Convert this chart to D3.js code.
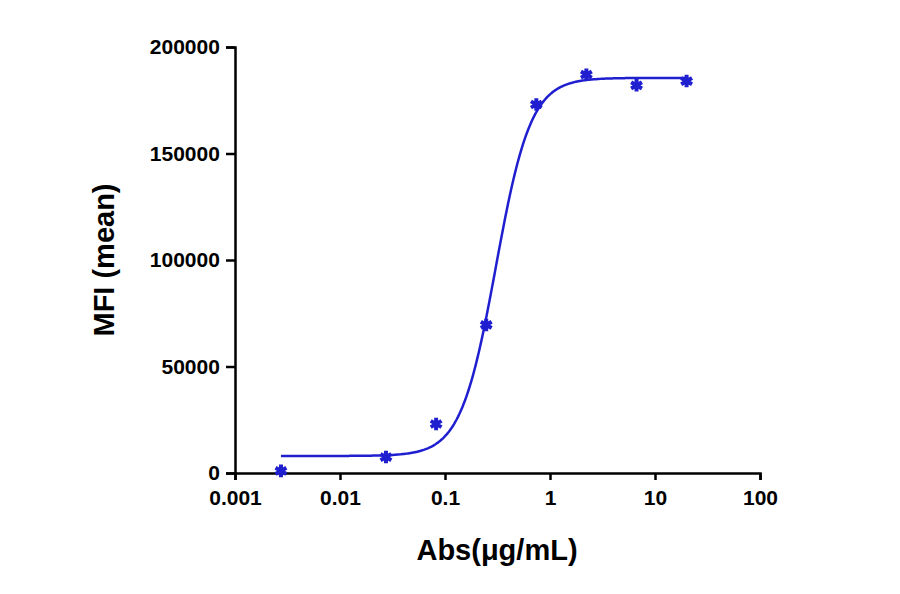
<!DOCTYPE html>
<html><head><meta charset="utf-8">
<script src="https://cdn.jsdelivr.net/npm/d3@7"></script>
<style>body{margin:0;background:#fff}</style></head>
<body><svg id="c" width="900" height="594"></svg>
<script>
const conc = [0.00274, 0.0274, 0.0823, 0.247, 0.741, 2.22, 6.67, 20];
const mfi = [1000, 7500, 23000, 69500, 173000, 187000, 182000, 184000];
const fitParams = {bottom: 8000, top: 185500, ec50: 0.305, hill: 2.6};
const xTicks = [0.001, 0.01, 0.1, 1, 10, 100];
const xTickLabels = ["0.001", "0.01", "0.1", "1", "10", "100"];
const yTicks = [0, 50000, 100000, 150000, 200000];

const svg = d3.select("#c");
const x = d3.scaleLog().domain([0.001, 100]).range([235, 760]);
const y = d3.scaleLinear().domain([0, 200000]).range([473, 47]);
const font = "Arial, 'Liberation Sans', sans-serif";

const xa = svg.append("g").attr("transform", "translate(0,473)")
  .call(d3.axisBottom(x).tickValues(xTicks).tickFormat((d, i) => xTickLabels[i]).tickSizeOuter(0).tickSize(7));
const ya = svg.append("g").attr("transform", "translate(235,0)")
  .call(d3.axisLeft(y).tickValues(yTicks).tickFormat(d3.format("d")).tickSizeOuter(0).tickSize(9));
[xa, ya].forEach(a => {
  a.selectAll("path,line").attr("stroke", "#000").attr("stroke-width", 2.5);
  a.selectAll("text").attr("font-family", font).attr("font-size", 21).attr("font-weight", "bold").attr("fill", "#000");
});
xa.selectAll("text").attr("dy", "1.05em");
ya.selectAll("text").attr("dx", "-0.15em");

const f = c => fitParams.bottom + (fitParams.top - fitParams.bottom) / (1 + Math.pow(fitParams.ec50 / c, fitParams.hill));
const lc = Math.log10(conc[0]), hc = Math.log10(conc[conc.length - 1]);
const curve = d3.range(0, 301).map(i => Math.pow(10, lc + (hc - lc) * i / 300));
svg.append("path").datum(curve)
  .attr("d", d3.line().x(d => x(d)).y(d => y(f(d))))
  .attr("fill", "none").attr("stroke", "#1f1fd0").attr("stroke-width", 2.5);

svg.selectAll(".pt").data(conc).enter().append("path")
  .attr("transform", (d, i) => `translate(${x(d)},${y(mfi[i])})`)
  .attr("d", d3.symbol(d3.symbolAsterisk, 110))
  .attr("fill", "#1f1fd0").attr("stroke", "#1f1fd0").attr("stroke-width", 4);

svg.append("text").attr("x", 497).attr("y", 560).attr("text-anchor", "middle")
  .attr("font-family", font).attr("font-size", 29).attr("font-weight", "bold").text("Abs(μg/mL)");
svg.append("text").attr("transform", "translate(114,260) rotate(-90)").attr("text-anchor", "middle")
  .attr("font-family", font).attr("font-size", 29).attr("font-weight", "bold").text("MFI (mean)");
</script></body></html>
